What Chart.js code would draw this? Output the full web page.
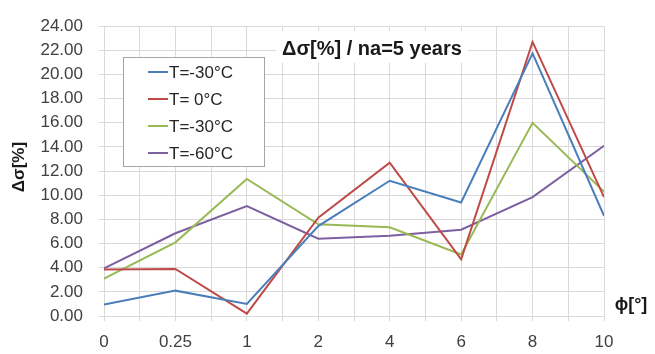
<!DOCTYPE html>
<html>
<head>
<meta charset="utf-8">
<script src="https://cdn.jsdelivr.net/npm/chart.js@4/dist/chart.umd.min.js"></script>
<style>
  html, body { margin: 0; padding: 0; background: #fff; }
  #wrap { width: 655px; height: 354px; position: relative; }
</style>
</head>
<body>
<div id="wrap"><canvas id="c" width="655" height="354"></canvas></div>
<script>
// Angle categories (evenly spaced along the x axis)
const categories = ['0', '0.25', '1', '2', '4', '6', '8', '10'];

// Δσ [%] per temperature series
const seriesLabels = ['T=-30°C', 'T= 0°C', 'T=-30°C', 'T=-60°C'];
const tMinus30a = [0.95, 2.1, 1.0, 7.45, 11.2, 9.4, 21.75, 8.3];
const tZero     = [3.85, 3.9, 0.2, 8.15, 12.7, 4.7, 22.7, 9.85];
const tMinus30b = [3.1, 6.1, 11.35, 7.6, 7.35, 5.1, 16.0, 10.3];
const tMinus60  = [3.95, 6.85, 9.1, 6.4, 6.65, 7.15, 9.85, 14.1];

const yTicks = [0, 2, 4, 6, 8, 10, 12, 14, 16, 18, 20, 22, 24];

const colors = ['#4a7ebb', '#be4b48', '#98b954', '#7d60a0'];
const seriesValues = [tMinus30a, tZero, tMinus30b, tMinus60];

const datasets = seriesValues.map((vals, i) => ({
  label: seriesLabels[i],
  data: vals.map((v, k) => ({ x: k, y: v })),
  borderColor: colors[i],
  backgroundColor: colors[i],
  borderWidth: 2,
  pointRadius: 0,
  tension: 0,
  fill: false
}));

const FONT = '"Liberation Sans", Arial, sans-serif';

// Title box, axis titles and the framed legend inside the plot
const overlay = {
  id: 'overlay',
  afterDatasetsDraw(chart) {
    const ctx = chart.ctx;
    ctx.save();

    // chart title on a white patch
    ctx.fillStyle = '#ffffff';
    ctx.fillRect(276, 31, 192, 32);
    ctx.fillStyle = '#1a1a1a';
    ctx.font = 'bold 20px ' + FONT;
    ctx.textAlign = 'left';
    ctx.textBaseline = 'middle';
    ctx.fillText('Δσ[%] / na=5 years', 282, 49);

    // legend
    const lx = 123, ly = 57, lw = 141, lh = 109;
    ctx.fillStyle = '#ffffff';
    ctx.fillRect(lx, ly, lw, lh);
    ctx.strokeStyle = '#a6a6a6';
    ctx.lineWidth = 1;
    ctx.strokeRect(lx + 0.5, ly + 0.5, lw, lh);
    ctx.font = '17px ' + FONT;
    chart.data.datasets.forEach((ds, i) => {
      const cy = 72 + i * 27;
      ctx.strokeStyle = ds.borderColor;
      ctx.lineWidth = 2;
      ctx.beginPath();
      ctx.moveTo(148, cy);
      ctx.lineTo(168, cy);
      ctx.stroke();
      ctx.fillStyle = '#262626';
      ctx.textAlign = 'left';
      ctx.fillText(ds.label, 169, cy + 1);
    });

    // y axis title (rotated)
    ctx.save();
    ctx.translate(19, 167);
    ctx.rotate(-Math.PI / 2);
    ctx.font = 'bold 17px ' + FONT;
    ctx.fillStyle = '#1a1a1a';
    ctx.textAlign = 'center';
    ctx.textBaseline = 'middle';
    ctx.fillText('Δσ[%]', 0, 0);
    ctx.restore();

    // x axis title
    ctx.font = 'bold 18px ' + FONT;
    ctx.fillStyle = '#1a1a1a';
    ctx.textAlign = 'center';
    ctx.textBaseline = 'middle';
    ctx.fillText('ϕ[°]', 631, 305);

    ctx.restore();
  }
};

new Chart(document.getElementById('c'), {
  type: 'line',
  data: { datasets },
  options: {
    responsive: false,
    animation: false,
    layout: { padding: { left: 0, right: 51, top: 16, bottom: 0 } },
    plugins: { legend: { display: false }, title: { display: false }, tooltip: { enabled: false } },
    scales: {
      x: {
        type: 'linear',
        min: 0,
        max: categories.length - 1,
        afterBuildTicks(scale) {
          const t = [];
          for (let v = 0; v <= categories.length - 1 + 1e-9; v += 0.5) t.push({ value: v });
          scale.ticks = t;
        },
        afterFit(scale) { scale.height = 38; },
        grid: { color: '#d9d9d9', lineWidth: 1, tickLength: 5, drawTicks: true },
        border: { color: '#d9d9d9' },
        ticks: {
          autoSkip: false,
          maxRotation: 0,
          padding: 11,
          color: '#404040',
          font: { family: FONT, size: 17 },
          callback: (v) => Number.isInteger(v) ? categories[v] : ''
        }
      },
      y: {
        min: 0,
        max: 24,
        afterBuildTicks(scale) { scale.ticks = yTicks.map(v => ({ value: v })); },
        afterFit(scale) { scale.width = 104; },
        grid: { color: '#d9d9d9', lineWidth: 1, tickLength: 5 },
        border: { color: '#d9d9d9' },
        ticks: {
          padding: 16,
          color: '#404040',
          font: { family: FONT, size: 17 },
          callback: (v) => v.toFixed(2)
        }
      }
    }
  },
  plugins: [overlay]
});
</script>
</body>
</html>
